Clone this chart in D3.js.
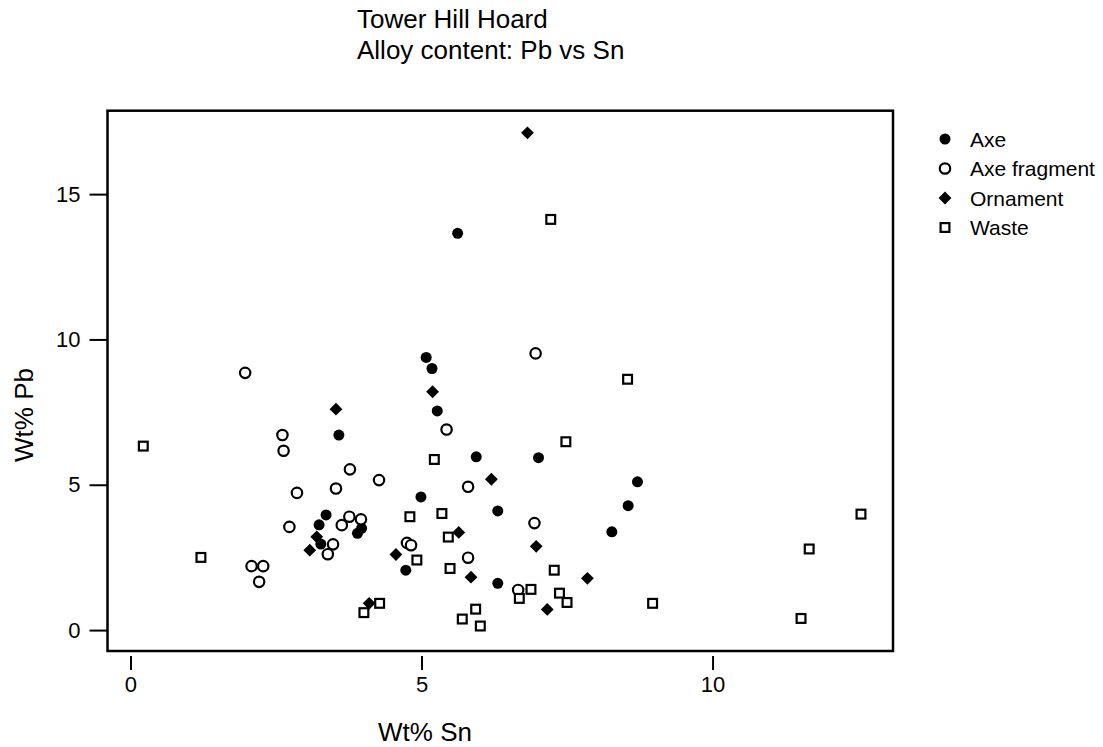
<!DOCTYPE html>
<html>
<head>
<meta charset="utf-8">
<script src="https://cdn.jsdelivr.net/npm/d3@7"></script>
<style>
  html, body { margin: 0; padding: 0; background: #fff; }
  svg { display: block; font-family: "Liberation Sans", Arial, Helvetica, sans-serif; }
</style>
</head>
<body>
<svg id="chart" width="1103" height="747"></svg>
<script>
// Tower Hill Hoard: lead (Pb) against tin (Sn) weight-percent, by object type.
const categories = ["Axe", "Axe fragment", "Ornament", "Waste"];

const axeSn = [5.08, 5.18, 5.62, 5.27, 3.58, 5.94, 7.01, 8.71, 8.55, 4.99, 6.31, 3.36, 3.24, 3.97, 3.90, 3.27, 8.27, 4.73, 6.31];
const axePb = [9.38, 9.00, 13.65, 7.54, 6.71, 5.96, 5.93, 5.10, 4.28, 4.58, 4.10, 3.96, 3.62, 3.50, 3.33, 2.96, 3.38, 2.06, 1.61];

const fragSn = [1.97, 6.96, 2.61, 2.63, 5.43, 3.77, 4.27, 3.53, 5.80, 2.86, 3.76, 3.63, 3.96, 2.73, 3.48, 3.39, 4.75, 4.82, 6.94, 5.80, 2.08, 2.28, 2.21, 6.66];
const fragPb = [8.85, 9.52, 6.71, 6.17, 6.90, 5.53, 5.16, 4.87, 4.93, 4.72, 3.90, 3.61, 3.81, 3.55, 2.95, 2.61, 3.00, 2.92, 3.68, 2.49, 2.20, 2.20, 1.66, 1.38];

const ornSn = [6.82, 5.19, 3.53, 6.20, 5.64, 6.97, 3.20, 3.08, 4.56, 5.85, 7.85, 4.10, 7.16];
const ornPb = [17.11, 8.20, 7.60, 5.19, 3.36, 2.88, 3.21, 2.75, 2.60, 1.82, 1.78, 0.92, 0.71];

const wasteSn = [0.22, 7.22, 8.54, 7.48, 5.22, 4.80, 5.35, 12.55, 5.46, 4.92, 1.21, 5.49, 7.28, 11.66, 6.88, 6.68, 7.37, 7.50, 8.97, 11.52, 4.28, 4.01, 5.93, 5.70, 6.01];
const wastePb = [6.33, 14.13, 8.63, 6.48, 5.87, 3.90, 4.01, 3.99, 3.20, 2.41, 2.50, 2.12, 2.06, 2.79, 1.40, 1.09, 1.27, 0.95, 0.92, 0.40, 0.92, 0.60, 0.72, 0.38, 0.14];

const xTicks = [0, 5, 10];
const yTicks = [0, 5, 10, 15];

const titleLines = ["Tower Hill Hoard", "Alloy content: Pb vs Sn"];
const xLabel = "Wt% Sn";
const yLabel = "Wt% Pb";

const seriesSn = [axeSn, fragSn, ornSn, wasteSn];
const seriesPb = [axePb, fragPb, ornPb, wastePb];

// ---- layout ----
const box = { left: 107.5, right: 893, top: 110.7, bottom: 651 };

const x = d3.scaleLinear().domain([-0.395, 13.1]).range([box.left, box.right]);
const y = d3.scaleLinear().domain([-0.72, 17.87]).range([box.bottom, box.top]);

const svg = d3.select("#chart");

// title (two left-aligned lines)
svg.append("g").selectAll("text")
  .data(titleLines)
  .join("text")
  .attr("x", 357)
  .attr("y", (d, i) => 28 + i * 31)
  .attr("font-size", 26)
  .attr("fill", "#000")
  .text(d => d);

// plot frame
svg.append("rect")
  .attr("x", box.left).attr("y", box.top)
  .attr("width", box.right - box.left).attr("height", box.bottom - box.top)
  .attr("fill", "none").attr("stroke", "#000").attr("stroke-width", 2.5);

// x axis, set just below the frame
const gx = svg.append("g")
  .attr("transform", `translate(0,${box.bottom + 5})`)
  .call(d3.axisBottom(x).tickValues(xTicks).tickSize(14).tickPadding(6).tickFormat(d3.format("d")));
gx.select(".domain").remove();
gx.selectAll(".tick line").attr("stroke", "#000").attr("stroke-width", 2);
gx.selectAll(".tick text").attr("font-size", 22).attr("fill", "#000")
  .attr("font-family", "\"Liberation Sans\", Arial, sans-serif");

// y axis
const gy = svg.append("g")
  .attr("transform", `translate(${box.left},0)`)
  .call(d3.axisLeft(y).tickValues(yTicks).tickSize(18).tickPadding(9).tickFormat(d3.format("d")));
gy.select(".domain").remove();
gy.selectAll(".tick line").attr("stroke", "#000").attr("stroke-width", 2);
gy.selectAll(".tick text").attr("font-size", 22).attr("fill", "#000")
  .attr("font-family", "\"Liberation Sans\", Arial, sans-serif");

// axis titles
svg.append("text")
  .attr("x", 425).attr("y", 741)
  .attr("text-anchor", "middle")
  .attr("font-size", 26)
  .text(xLabel);

svg.append("text")
  .attr("transform", "translate(33,415) rotate(-90)")
  .attr("text-anchor", "middle")
  .attr("font-size", 26)
  .text(yLabel);

// ---- markers ----
function drawMarker(sel, kind) {
  if (kind === 0) {
    sel.append("circle").attr("r", 5.5).attr("fill", "#000");
  } else if (kind === 1) {
    sel.append("circle").attr("r", 5.2).attr("fill", "#fff")
      .attr("stroke", "#000").attr("stroke-width", 2.2);
  } else if (kind === 2) {
    const s = 6.4;
    sel.append("path").attr("d", `M0,${-s}L${s},0L0,${s}L${-s},0Z`).attr("fill", "#000");
  } else {
    const h = 4.4;
    sel.append("rect").attr("x", -h).attr("y", -h).attr("width", 2 * h).attr("height", 2 * h)
      .attr("fill", "#fff").attr("stroke", "#000").attr("stroke-width", 2.2);
  }
}

const plot = svg.append("g");
categories.forEach((name, k) => {
  const pts = seriesSn[k].map((sn, i) => ({ sn, pb: seriesPb[k][i] }));
  plot.append("g").attr("class", "series")
    .selectAll("g")
    .data(pts)
    .join("g")
    .attr("transform", d => `translate(${x(d.sn)},${y(d.pb)})`)
    .each(function () { drawMarker(d3.select(this), k); });
});

// ---- legend ----
const legend = svg.append("g");
const rows = legend.selectAll("g")
  .data(categories)
  .join("g")
  .attr("transform", (d, i) => `translate(945,${139 + i * 29.5})`);
rows.each(function (d, i) { drawMarker(d3.select(this), i); });
rows.append("text")
  .attr("x", 25).attr("y", 7.5)
  .attr("font-size", 21)
  .text(d => d);
</script>
</body>
</html>
